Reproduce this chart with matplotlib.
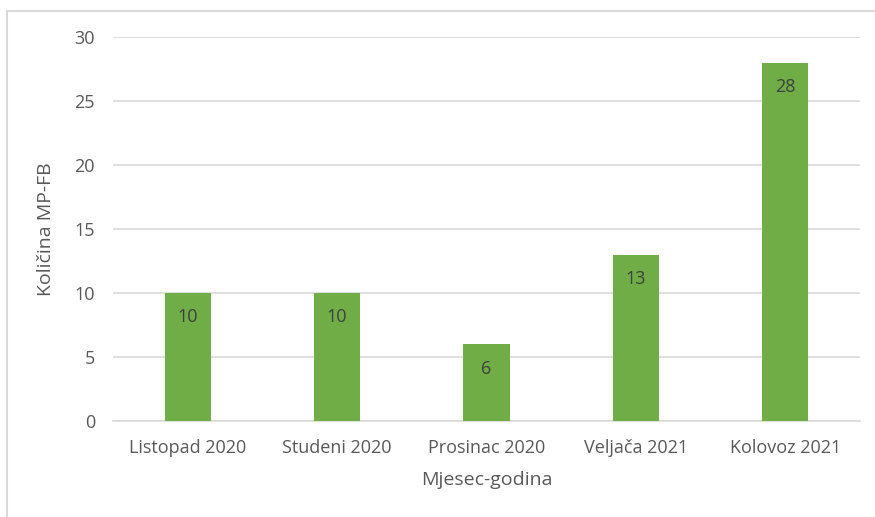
import numpy as np
import matplotlib
matplotlib.use('Agg')
import matplotlib.pyplot as plt
from matplotlib.patches import Rectangle

mjeseci = ['Listopad 2020', 'Studeni 2020', 'Prosinac 2020', 'Veljača 2021', 'Kolovoz 2021']
kolicina = [10, 10, 6, 13, 28]
y_ticks = [0, 5, 10, 15, 20, 25, 30]

siva = '#595959'
zelena = '#70AD47'

plt.rcParams['font.family'] = ['Open Sans', 'DejaVu Sans']

fig = plt.figure(figsize=(8.75, 5.17), dpi=100)
W, H = 875, 517
ax = fig.add_axes([113 / W, 1 - 421 / H, (860 - 113) / W, (421 - 37) / H])

x = np.arange(len(mjeseci))
bars = ax.bar(x, kolicina, width=0.31, color=zelena, zorder=3)

ax.set_xlim(-0.5, len(mjeseci) - 0.5)
ax.set_ylim(0, 30)
ax.set_yticks(y_ticks)
ax.set_xticks(x)
ax.set_xticklabels(mjeseci)
ax.grid(axis='y', color='#D9D9D9', linewidth=1.2, zorder=0)
for s in ['top', 'right', 'left']:
    ax.spines[s].set_visible(False)
ax.spines['bottom'].set_color('#D9D9D9')
ax.spines['bottom'].set_linewidth(1.2)
ax.tick_params(length=0, labelsize=13, colors=siva)
ax.tick_params(axis='y', pad=13)
ax.tick_params(axis='x', pad=13)

# vrijednosti unutar stupaca
for b, v in zip(bars, kolicina):
    ax.annotate(str(v), (b.get_x() + b.get_width() / 2, v), xytext=(0, -17.5),
                textcoords='offset points', ha='center', va='center',
                fontsize=13, color='#404040')

ax.set_xlabel('Mjesec-godina', fontsize=14, color=siva, labelpad=10)
ax.set_ylabel('Količina MP-FB', fontsize=14, color=siva, labelpad=14)

# okvir grafikona
fig.patches.append(Rectangle((7 / W, -0.1), 1.1, 1 - 11 / H + 0.1, transform=fig.transFigure,
                             fill=False, edgecolor='#D9D9D9', linewidth=1.5))

fig.savefig('out.png', dpi=100)
